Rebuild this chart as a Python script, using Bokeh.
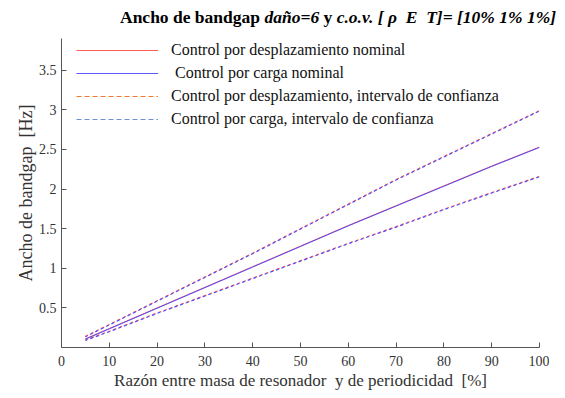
import math
from bokeh.plotting import figure
from bokeh.layouts import column
from bokeh.models import Legend, LegendItem, FixedTicker, ColumnDataSource, Div
from bokeh.embed import file_html
from bokeh.resources import INLINE

# ---- data ----
x = [5, 10, 20, 30, 40, 50, 60, 70, 80, 90, 100]
nom_desp = [0.11, 0.24, 0.50, 0.76, 1.02, 1.28, 1.54, 1.79, 2.04, 2.29, 2.53]
nom_carga = [0.105, 0.235, 0.495, 0.755, 1.015, 1.275, 1.535, 1.785, 2.035, 2.285, 2.525]
up_desp = [0.14, 0.29, 0.59, 0.89, 1.19, 1.50, 1.81, 2.12, 2.41, 2.70, 2.99]
up_carga = [0.135, 0.285, 0.585, 0.885, 1.185, 1.495, 1.805, 2.115, 2.405, 2.695, 2.985]
lo_desp = [0.095, 0.205, 0.435, 0.655, 0.875, 1.095, 1.315, 1.525, 1.745, 1.955, 2.16]
lo_carga = [0.09, 0.20, 0.43, 0.65, 0.87, 1.09, 1.31, 1.52, 1.74, 1.95, 2.155]

x_ticks = [0, 10, 20, 30, 40, 50, 60, 70, 80, 90, 100]
y_ticks = [0.5, 1, 1.5, 2, 2.5, 3, 3.5]
y_tick_labels = ["0.5", "1", "1.5", "2", "2.5", "3", "3.5"]

legend_labels = [
    "Control por desplazamiento nominal",
    "\u00a0Control por carga nominal",
    "Control por desplazamiento, intervalo de confianza",
    "Control por carga, intervalo de confianza",
]
title_html = ("Ancho de bandgap <i>daño=6</i> y "
              "<i>c.o.v. [ ρ &nbsp;E &nbsp;T]= [10% 1% 1%]</i>")
x_label = "Razón entre masa de resonador\u00a0 y de periodicidad\u00a0 [%]"
y_label = "Ancho de bandgap\u00a0 [Hz]"

FONT = "Liberation Serif"
RED = "#ff5050"
BLUE = "#5050ff"
W = 549

# ---- title (mixed bold / bold-italic) ----
title = Div(text=title_html, width=W, height=30, margin=0,
            styles={"font-family": "'Liberation Serif', 'Times New Roman', serif",
                    "font-size": "17.5px", "font-weight": "bold", "color": "#000000",
                    "padding-left": "120px", "padding-top": "5px", "box-sizing": "border-box",
                    "white-space": "nowrap"})

# ---- main plot ----
p = figure(width=W, height=362, x_range=(0, 100), y_range=(0, 3.9),
           output_backend="svg", toolbar_location=None, margin=0,
           min_border_left=61, min_border_right=10, min_border_top=8, min_border_bottom=43)
p.outline_line_color = None
p.grid.visible = False

src = ColumnDataSource(dict(x=x, nd=nom_desp, nc=nom_carga, ud=up_desp, uc=up_carga,
                            ld=lo_desp, lc=lo_carga))
p.line("x", "nd", source=src, line_color=RED, line_width=1)
p.line("x", "nc", source=src, line_color=BLUE, line_width=1)
p.line("x", "ud", source=src, line_color=RED, line_width=1.2, line_dash="3 3")
p.line("x", "uc", source=src, line_color=BLUE, line_width=1.2, line_dash="3 3", line_dash_offset=1)
p.line("x", "ld", source=src, line_color=RED, line_width=1.2, line_dash="3 3")
p.line("x", "lc", source=src, line_color=BLUE, line_width=1.2, line_dash="3 3", line_dash_offset=1)

# legend proxies (legend colours differ from the plotted dashed lines)
nan_src = ColumnDataSource(dict(x=[math.nan], y=[math.nan]))
r1 = p.line("x", "y", source=nan_src, line_color="#ff5a5a", line_width=1)
r2 = p.line("x", "y", source=nan_src, line_color="#5a5aff", line_width=1)
r3 = p.line("x", "y", source=nan_src, line_color="#f07a2a", line_width=1.2, line_dash="5 3")
r4 = p.line("x", "y", source=nan_src, line_color="#7090d8", line_width=1.2, line_dash="5 3")

legend = Legend(items=[LegendItem(label=l, renderers=[r]) for l, r in zip(legend_labels, [r1, r2, r3, r4])],
                location=(15, 218), margin=0, padding=0, spacing=3,
                glyph_width=82, glyph_height=20, label_height=20, label_standoff=13,
                label_text_font=FONT, label_text_font_size="16px", label_text_color="#111111",
                border_line_color=None, background_fill_alpha=0)
p.add_layout(legend, "center")

for ax in (p.xaxis, p.yaxis):
    ax.axis_line_color = "#555555"
    ax.major_tick_line_color = "#555555"
    ax.major_tick_in = 5
    ax.major_tick_out = 0
    ax.minor_tick_line_color = None
    ax.major_label_text_font = FONT
    ax.major_label_text_font_size = "14px"
    ax.major_label_text_color = "#333333"
    ax.axis_label_text_font = FONT
    ax.axis_label_text_font_style = "normal"
    ax.axis_label_text_color = "#333333"

p.xaxis.axis_label_text_font_size = "17px"
p.yaxis.axis_label_text_font_size = "18px"
p.xaxis.ticker = FixedTicker(ticks=x_ticks)
p.yaxis.ticker = FixedTicker(ticks=y_ticks)
p.yaxis.major_label_overrides = {t: s for t, s in zip(y_ticks, y_tick_labels)}
p.xaxis.axis_label = x_label
p.yaxis.axis_label = y_label
p.xaxis.major_label_standoff = 8
p.xaxis.axis_label_standoff = 2
p.yaxis.major_label_standoff = 5
p.yaxis.axis_label_standoff = 0

layout = column(title, p, spacing=0)
open("out.html", "w").write(file_html(layout, INLINE))
